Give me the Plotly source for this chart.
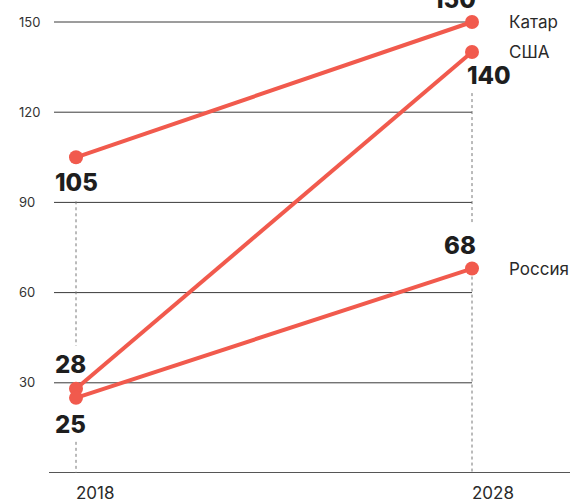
import plotly.graph_objects as go

# ---- data ----
years = [2018, 2028]
year_labels = ["2018", "2028"]
countries = ["Катар", "США", "Россия"]
qatar = [105, 150]
usa = [28, 140]
russia = [25, 68]
y_ticks = [0, 30, 60, 90, 120, 150]

series = [qatar, usa, russia]

RED = "#F15A4D"
DARK = "#1E1E1E"
GREY = "#3A3A3A"
W, H = 570, 503
B = 30
PLOT_H = H - B

# scale helpers (pixel targets for layout)
PX_PER_YEAR = (472 - 76) / 10
X0 = years[0] - 76 / PX_PER_YEAR
X1 = X0 + W / PX_PER_YEAR
PX_PER_UNIT = (473 - 22) / 150
Y1 = PLOT_H / PX_PER_UNIT


def px_x(px):
    return X0 + px / PX_PER_YEAR


def dy(px):
    return px / PX_PER_UNIT


fig = go.Figure()

for name, vals in zip(countries, series):
    fig.add_trace(go.Scatter(
        x=years, y=vals, mode="lines+markers", name=name,
        line=dict(color=RED, width=4),
        marker=dict(color=RED, size=14),
        hoverinfo="skip", showlegend=False,
    ))

shapes = []
# gridlines
for t in y_ticks[1:]:
    shapes.append(dict(type="line", xref="x", yref="y", x0=px_x(54), x1=years[1],
                       y0=t, y1=t, line=dict(color=GREY, width=1), layer="below"))
shapes.append(dict(type="line", xref="x", yref="y", x0=px_x(49), x1=X1,
                   y0=0, y1=0, line=dict(color=DARK, width=1.5), layer="below"))

# dotted verticals
dots = [
    (years[0], qatar[0] - dy(44), usa[0] + dy(43)),
    (years[0], russia[0] - dy(44), 0),
    (years[1], usa[1] - dy(41), russia[1] + dy(46)),
    (years[1], russia[1] - dy(8), 0),
]
for xv, ya, yb in dots:
    shapes.append(dict(type="line", xref="x", yref="y", x0=xv, x1=xv, y0=ya, y1=yb,
                       line=dict(color="#777777", width=1, dash="dot"), layer="below"))

annotations = []
num_font = dict(family="Inter", size=24, color=DARK, weight=800)


def num(xv, yv, xanchor, xshift, yshift):
    annotations.append(dict(x=xv, y=yv, xref="x", yref="y", text=str(yv),
                            showarrow=False, xanchor=xanchor, yanchor="middle",
                            xshift=xshift, yshift=yshift, font=num_font))


num(years[0], qatar[0], "left", -23, -25)
num(years[0], usa[0], "left", -23, 24)
num(years[0], russia[0], "left", -23, -27)
num(years[1], qatar[1], "right", 6, 23)
num(years[1], usa[1], "left", -7, -23)
num(years[1], russia[1], "right", 6, 23)

for name, vals in zip(countries, series):
    annotations.append(dict(x=years[1], y=vals[1], xref="x", yref="y", text=name,
                            showarrow=False, xanchor="left", yanchor="middle",
                            xshift=35, font=dict(family="Inter", size=17, color="#2A2A2A")))

fig.update_layout(
    width=W, height=H,
    margin=dict(l=0, r=0, t=0, b=B),
    paper_bgcolor="white", plot_bgcolor="white",
    shapes=shapes, annotations=annotations,
    xaxis=dict(range=[X0, X1], tickvals=years, ticktext=year_labels,
               showgrid=False, zeroline=False, showline=False, ticks="",
               ticklabelposition="outside right", ticklabelstandoff=8,
               tickfont=dict(family="Inter", size=17, color="#2A2A2A"),
               fixedrange=True),
    yaxis=dict(range=[0, Y1], tickvals=y_ticks, showgrid=False, zeroline=False,
               showline=False, ticks="", ticklabelposition="inside",
               ticklabelstandoff=16,
               tickfont=dict(family="Inter", size=13, color="#333333"),
               fixedrange=True),
    showlegend=False,
)

fig.write_html("out.html", config={"displayModeBar": False},
               post_script="document.body.style.margin='0';")
